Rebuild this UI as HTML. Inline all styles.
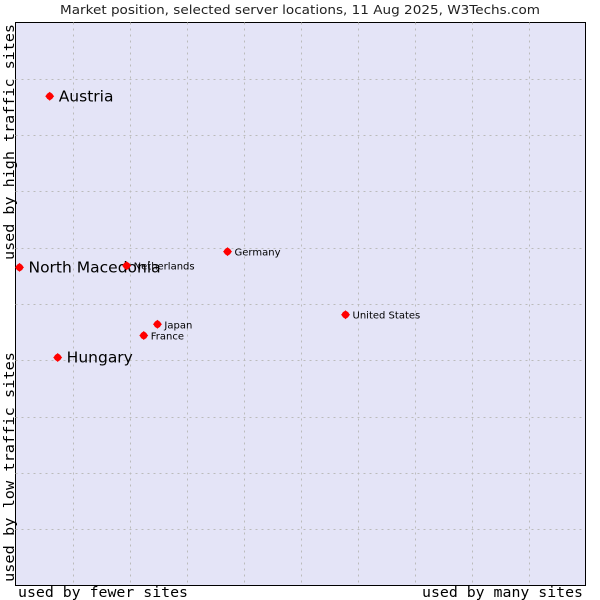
<!DOCTYPE html>
<html><head><meta charset="utf-8"><style>body{margin:0;background:#fff}svg{display:block}</style></head>
<body>
<svg id="chart" width="600" height="600" xmlns="http://www.w3.org/2000/svg">
<text x="300" y="14" text-anchor="middle" font-family="DejaVu Sans, sans-serif" font-size="12.5" fill="#222" textLength="480" lengthAdjust="spacingAndGlyphs">Market position, selected server locations, 11 Aug 2025, W3Techs.com</text>
<rect x="15.5" y="22.5" width="570" height="563" fill="#e4e4f7" stroke="#000" stroke-width="1"/>
<g id="grid"></g>
<g id="points"></g>
<text x="18" y="597" font-family="DejaVu Sans Mono, monospace" font-size="14" fill="#000" textLength="170" lengthAdjust="spacingAndGlyphs">used by fewer sites</text>
<text x="422" y="597" font-family="DejaVu Sans Mono, monospace" font-size="14" fill="#000" textLength="161" lengthAdjust="spacingAndGlyphs">used by many sites</text>
<text transform="translate(14,582) rotate(-90)" font-family="DejaVu Sans Mono, monospace" font-size="14" fill="#000" textLength="230" lengthAdjust="spacingAndGlyphs">used by low traffic sites</text>
<text transform="translate(14,260) rotate(-90)" font-family="DejaVu Sans Mono, monospace" font-size="14" fill="#000" textLength="236" lengthAdjust="spacingAndGlyphs">used by high traffic sites</text>
</svg>
<script>
const names = ["Austria","North Macedonia","Netherlands","Germany","United States","Japan","France","Hungary"];
const xValues = [0.6,0.07,1.95,3.72,5.79,2.49,2.25,0.74];
const yValues = [8.69,5.65,5.68,5.93,4.81,4.64,4.44,4.05];
const highlighted = [true,true,false,false,false,false,false,true];
const NS="http://www.w3.org/2000/svg";
const X0=15.5,X1=585.5,Y0=22.5,Y1=585.5;
function xs(v){return X0+(X1-X0)*v/10;}
function ys(v){return Y1-(Y1-Y0)*v/10;}
const grid=document.getElementById('grid');
for(let i=1;i<10;i++){
  const v=document.createElementNS(NS,'line');
  
  
  v.setAttribute('x1',Math.round(xs(i))+0.5);v.setAttribute('x2',Math.round(xs(i))+0.5);
  v.setAttribute('y1',Y0);v.setAttribute('y2',Y1);
  v.setAttribute('stroke','#bbb');v.setAttribute('stroke-dasharray','2,4');
  grid.appendChild(v);
  const h=document.createElementNS(NS,'line');
  
  
  h.setAttribute('y1',Math.round(ys(i))+0.5);h.setAttribute('y2',Math.round(ys(i))+0.5);
  h.setAttribute('x1',X0);h.setAttribute('x2',X1);
  h.setAttribute('stroke','#bbb');h.setAttribute('stroke-dasharray','2,4');
  grid.appendChild(h);
}
const pts=document.getElementById('points');
names.forEach((n,i)=>{
  const cx=xs(xValues[i]),cy=ys(yValues[i]);
  const d=document.createElementNS(NS,'path');
  
  
  d.setAttribute('d',`M${cx-4.5} ${cy}L${cx} ${cy-4.5}L${cx+4.5} ${cy}L${cx} ${cy+4.5}Z`);
  d.setAttribute('fill','#f00');
  pts.appendChild(d);
  const c=document.createElementNS(NS,'circle');
  
  
  c.setAttribute('cx',cx);c.setAttribute('cy',cy);c.setAttribute('r',3.6);c.setAttribute('fill','#f00');
  pts.appendChild(c);
  const t=document.createElementNS(NS,'text');
  
  
  const big=highlighted[i];
  t.setAttribute('x',cx+(big?9:7));
  t.setAttribute('y',cy+(big?5:4));
  t.setAttribute('font-family','DejaVu Sans, sans-serif');
  t.setAttribute('font-size',big?'15.5':'10');
  t.setAttribute('fill','#000');
  t.textContent=n;
  pts.appendChild(t);
});
</script>
</body></html>
